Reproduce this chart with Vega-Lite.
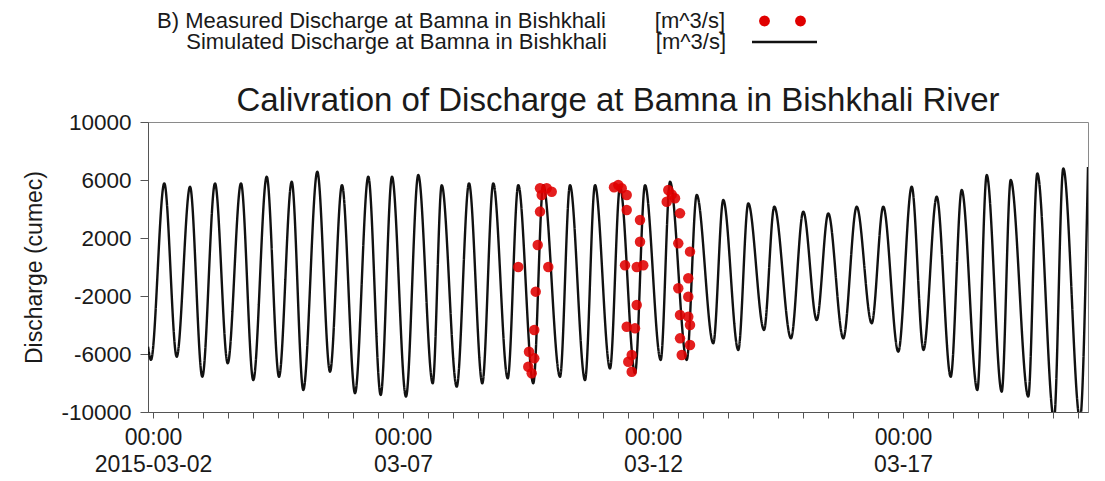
{
  "$schema": "https://vega.github.io/schema/vega-lite/v6.json",
  "width": 940,
  "height": 290,
  "autosize": {"type": "none"},
  "padding": {"left": 148, "top": 122, "right": 17, "bottom": 69},
  "background": "white",
  "title": {"text": "Calivration of Discharge at Bamna in Bishkhali River", "fontSize": 33, "fontWeight": "normal", "font": "Liberation Sans", "color": "#1a1a1a", "anchor": "middle", "frame": "group", "baseline": "alphabetic", "offset": -134},
  "config": {
    "font": "Liberation Sans",
    "view": {"stroke": "#8a8a8a", "strokeWidth": 1},
    "axis": {"labelFont": "Liberation Sans", "titleFont": "Liberation Sans", "labelColor": "#1a1a1a", "titleColor": "#1a1a1a", "domainColor": "#555555", "tickColor": "#555555", "grid": false},
    "legend": {"labelFont": "Liberation Sans", "labelColor": "#1a1a1a", "padding": 0}
  },
  "datasets": {
    "sim": [
      {"t": "2015-03-01T21:36", "q": -5500},
      {"t": "2015-03-01T23:02", "q": -6400},
      {"t": "2015-03-02T05:25", "q": 5770},
      {"t": "2015-03-02T11:23", "q": -6190},
      {"t": "2015-03-02T17:46", "q": 5540},
      {"t": "2015-03-02T23:40", "q": -7570},
      {"t": "2015-03-03T05:46", "q": 5770},
      {"t": "2015-03-03T11:52", "q": -6640},
      {"t": "2015-03-03T18:14", "q": 5770},
      {"t": "2015-03-04T00:08", "q": -7800},
      {"t": "2015-03-04T06:35", "q": 6230},
      {"t": "2015-03-04T12:29", "q": -7570},
      {"t": "2015-03-04T18:35", "q": 5880},
      {"t": "2015-03-05T00:08", "q": -8480},
      {"t": "2015-03-05T06:52", "q": 6570},
      {"t": "2015-03-05T12:58", "q": -7220},
      {"t": "2015-03-05T18:43", "q": 5650},
      {"t": "2015-03-06T00:58", "q": -8710},
      {"t": "2015-03-06T07:20", "q": 6230},
      {"t": "2015-03-06T13:18", "q": -8830},
      {"t": "2015-03-06T18:43", "q": 6230},
      {"t": "2015-03-07T01:26", "q": -8940},
      {"t": "2015-03-07T07:20", "q": 6340},
      {"t": "2015-03-07T14:16", "q": -8020},
      {"t": "2015-03-07T18:35", "q": 5650},
      {"t": "2015-03-08T01:47", "q": -8250},
      {"t": "2015-03-08T07:41", "q": 5770},
      {"t": "2015-03-08T14:04", "q": -8020},
      {"t": "2015-03-08T19:20", "q": 5770},
      {"t": "2015-03-09T02:16", "q": -7680},
      {"t": "2015-03-09T07:20", "q": 5650},
      {"t": "2015-03-09T14:32", "q": -8020},
      {"t": "2015-03-09T19:20", "q": 5650},
      {"t": "2015-03-10T03:22", "q": -7570},
      {"t": "2015-03-10T08:10", "q": 5650},
      {"t": "2015-03-10T15:22", "q": -7800},
      {"t": "2015-03-10T20:10", "q": 5650},
      {"t": "2015-03-11T03:22", "q": -7000},
      {"t": "2015-03-11T08:10", "q": 5540},
      {"t": "2015-03-11T15:22", "q": -7330},
      {"t": "2015-03-11T20:10", "q": 5650},
      {"t": "2015-03-12T03:42", "q": -6410},
      {"t": "2015-03-12T08:10", "q": 5880},
      {"t": "2015-03-12T16:11", "q": -6410},
      {"t": "2015-03-12T20:59", "q": 4970},
      {"t": "2015-03-13T04:56", "q": -5260},
      {"t": "2015-03-13T09:44", "q": 4620},
      {"t": "2015-03-13T16:56", "q": -5720},
      {"t": "2015-03-13T21:44", "q": 4390},
      {"t": "2015-03-14T05:17", "q": -4340},
      {"t": "2015-03-14T10:13", "q": 4160},
      {"t": "2015-03-14T18:14", "q": -4920},
      {"t": "2015-03-15T00:08", "q": 3820},
      {"t": "2015-03-15T06:35", "q": -3660},
      {"t": "2015-03-15T12:08", "q": 3700},
      {"t": "2015-03-15T19:20", "q": -4920},
      {"t": "2015-03-16T01:47", "q": 4160},
      {"t": "2015-03-16T08:59", "q": -3880},
      {"t": "2015-03-16T14:32", "q": 4160},
      {"t": "2015-03-16T21:44", "q": -5840},
      {"t": "2015-03-17T04:11", "q": 5540},
      {"t": "2015-03-17T09:50", "q": -5720},
      {"t": "2015-03-17T16:11", "q": 4850},
      {"t": "2015-03-17T22:54", "q": -7570},
      {"t": "2015-03-18T04:11", "q": 5310},
      {"t": "2015-03-18T11:40", "q": -8480},
      {"t": "2015-03-18T16:11", "q": 6340},
      {"t": "2015-03-18T23:23", "q": -8600},
      {"t": "2015-03-19T03:42", "q": 6000},
      {"t": "2015-03-19T12:08", "q": -8940},
      {"t": "2015-03-19T16:28", "q": 6460},
      {"t": "2015-03-20T00:29", "q": -10500},
      {"t": "2015-03-20T04:56", "q": 6800},
      {"t": "2015-03-20T12:58", "q": -10500},
      {"t": "2015-03-20T16:48", "q": 6900}
    ],
    "obs": [
      {"t": "2015-03-09T17:46", "q": 5430},
      {"t": "2015-03-09T20:59", "q": 5430},
      {"t": "2015-03-09T23:23", "q": 5190},
      {"t": "2015-03-09T18:35", "q": 4970},
      {"t": "2015-03-09T17:46", "q": 3820},
      {"t": "2015-03-09T16:40", "q": 1520},
      {"t": "2015-03-09T07:20", "q": 0},
      {"t": "2015-03-09T21:44", "q": 0},
      {"t": "2015-03-09T15:42", "q": -1700},
      {"t": "2015-03-09T15:01", "q": -4340},
      {"t": "2015-03-09T12:29", "q": -5840},
      {"t": "2015-03-09T15:01", "q": -6300},
      {"t": "2015-03-09T12:08", "q": -6880},
      {"t": "2015-03-09T13:47", "q": -7330},
      {"t": "2015-03-11T05:17", "q": 5500},
      {"t": "2015-03-11T07:20", "q": 5650},
      {"t": "2015-03-11T08:59", "q": 5430},
      {"t": "2015-03-11T11:23", "q": 4970},
      {"t": "2015-03-11T11:23", "q": 3930},
      {"t": "2015-03-11T17:46", "q": 3240},
      {"t": "2015-03-11T17:46", "q": 1740},
      {"t": "2015-03-11T10:34", "q": 120},
      {"t": "2015-03-11T16:11", "q": 0},
      {"t": "2015-03-11T19:20", "q": 120},
      {"t": "2015-03-11T16:11", "q": -2620},
      {"t": "2015-03-11T11:23", "q": -4120},
      {"t": "2015-03-11T15:22", "q": -4230},
      {"t": "2015-03-11T13:47", "q": -6070},
      {"t": "2015-03-11T12:08", "q": -6530},
      {"t": "2015-03-11T13:47", "q": -7220},
      {"t": "2015-03-12T07:20", "q": 5310},
      {"t": "2015-03-12T08:59", "q": 5000},
      {"t": "2015-03-12T06:35", "q": 4500},
      {"t": "2015-03-12T10:34", "q": 4740},
      {"t": "2015-03-12T12:58", "q": 3700},
      {"t": "2015-03-12T12:08", "q": 1630},
      {"t": "2015-03-12T17:46", "q": 1060},
      {"t": "2015-03-12T16:56", "q": -780},
      {"t": "2015-03-12T12:08", "q": -1470},
      {"t": "2015-03-12T16:56", "q": -2050},
      {"t": "2015-03-12T12:58", "q": -3310},
      {"t": "2015-03-12T16:56", "q": -3430},
      {"t": "2015-03-12T17:46", "q": -4000},
      {"t": "2015-03-12T12:58", "q": -4920},
      {"t": "2015-03-12T17:46", "q": -5380},
      {"t": "2015-03-12T13:47", "q": -6070}
    ]
  },
  "layer": [
    {
      "data": {"name": "sim"},
      "mark": {"type": "line", "clip": true, "strokeWidth": 2.4, "interpolate": "monotone", "color": "#111111"},
      "encoding": {
        "x": {
          "field": "t", "type": "temporal",
          "scale": {"domain": [{"year": 2015, "month": 3, "date": 1, "hours": 21, "minutes": 36}, {"year": 2015, "month": 3, "date": 20, "hours": 16, "minutes": 48}]},
          "axis": {
            "title": null,
            "tickCount": 38,
            "labelExpr": "hours(datum.value) == 0 && (date(datum.value) - 2) % 5 == 0 ? ['00:00', date(datum.value) == 2 ? timeFormat(datum.value, '%Y-%m-%d') : timeFormat(datum.value, '%m-%d')] : ''",
            "tickSize": 6, "labelPadding": 8, "labelFontSize": 23, "labelLineHeight": 27,
            "labelOverlap": false, "labelFlush": false, "grid": false
          }
        },
        "y": {
          "field": "q", "type": "quantitative",
          "scale": {"domain": [-10000, 10000], "nice": false},
          "axis": {
            "values": [-10000, -8000, -6000, -4000, -2000, 0, 2000, 4000, 6000, 8000, 10000],
            "labelExpr": "(datum.value + 10000) % 4000 == 0 ? '' + datum.value : ''",
            "title": "Discharge (cumec)", "titleFontSize": 23, "titleFontWeight": "normal", "titlePadding": 14,
            "labelFontSize": 22.5, "tickSize": 8, "labelPadding": 9, "labelOverlap": false, "grid": false
          }
        },
        "strokeDash": {
          "datum": "Simulated", "type": "nominal",
          "scale": {"domain": ["Simulated"], "range": [[1, 0]]},
          "legend": {
            "orient": "none", "legendX": 625, "legendY": -91.5, "direction": "vertical",
            "title": null,
            "labelFontSize": 22, "labelAlign": "right", "labelOffset": -70, "labelLimit": 1000,
            "labelExpr": "'Simulated Discharge at Bamna in Bishkhali\u00a0\u00a0\u00a0\u00a0\u00a0\u00a0\u00a0\u00a0[m^3/s]'",
            "symbolType": "M-3.25,0L3.25,0", "symbolSize": 400, "symbolStrokeColor": "#111111", "symbolStrokeWidth": 2.4, "symbolFillColor": "transparent"
          }
        }
      }
    },
    {
      "data": {"name": "obs"},
      "mark": {"type": "point", "filled": true, "size": 110, "opacity": 0.88},
      "encoding": {
        "x": {"field": "t", "type": "temporal"},
        "y": {"field": "q", "type": "quantitative"},
        "color": {
          "datum": "Measured", "type": "nominal",
          "scale": {"domain": ["Measured"], "range": ["#e00000"]},
          "legend": {
            "orient": "none", "legendX": 625, "legendY": -112, "direction": "vertical",
            "title": null,
            "labelFontSize": 22, "labelAlign": "right", "labelOffset": -70, "labelLimit": 1000,
            "labelExpr": "'B) Measured Discharge at Bamna in Bishkhali\u00a0\u00a0\u00a0\u00a0\u00a0\u00a0\u00a0\u00a0[m^3/s]'",
            "symbolType": "M-1.4,0L-1.474,0.275L-1.675,0.476L-1.95,0.55L-2.225,0.476L-2.426,0.275L-2.5,0L-2.426,-0.275L-2.225,-0.476L-1.95,-0.55L-1.675,-0.476L-1.474,-0.275ZM2.2,0L2.126,0.275L1.925,0.476L1.65,0.55L1.375,0.476L1.174,0.275L1.1,0L1.174,-0.275L1.375,-0.476L1.65,-0.55L1.925,-0.476L2.126,-0.275Z",
            "symbolSize": 400, "symbolOpacity": 1, "symbolStrokeWidth": 0
          }
        }
      }
    }
  ]
}
